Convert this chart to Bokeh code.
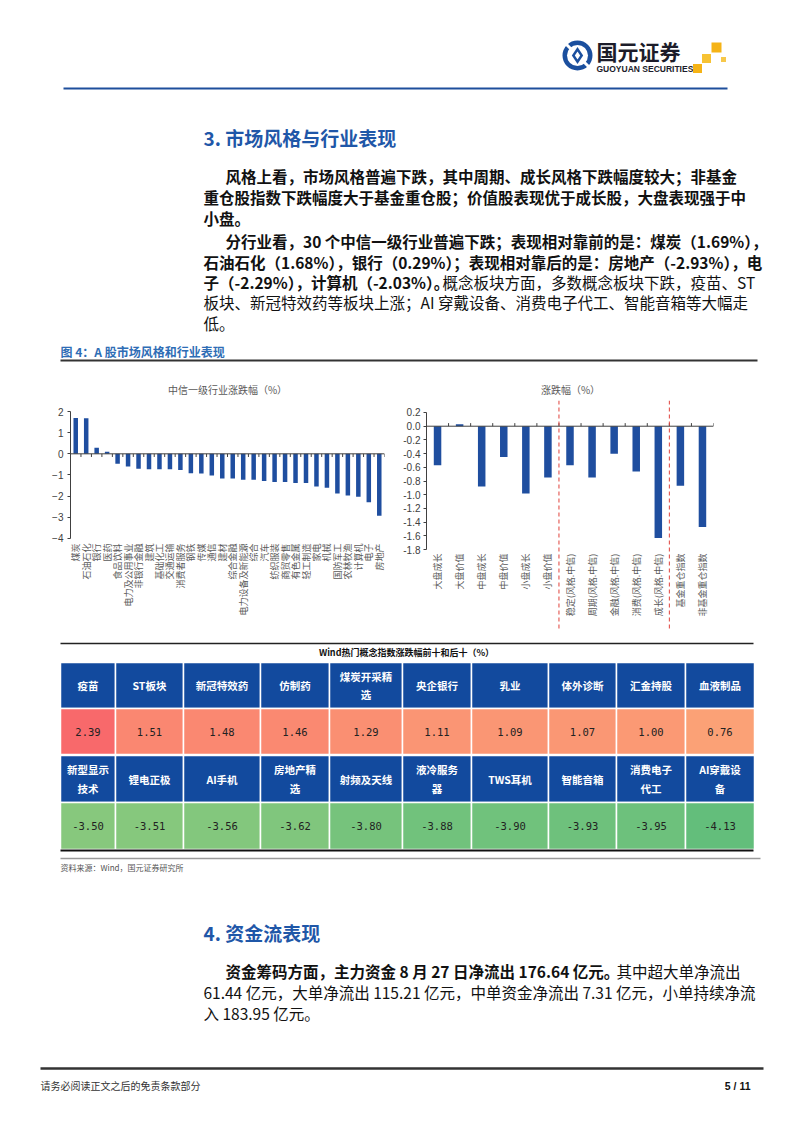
import math
import numpy as np
from bokeh.plotting import figure
from bokeh.layouts import column, row
from bokeh.models import Range1d, FactorRange, Span, FixedTicker, PrintfTickFormatter, ColumnDataSource
from bokeh.transform import dodge
from bokeh.core.properties import value
from bokeh.embed import file_html
from bokeh.resources import INLINE

# ---------------- data ----------------
industries = ["煤炭", "石油石化", "银行", "医药", "食品饮料", "电力及公用事业", "非银行金融", "建筑",
              "基础化工", "交通运输", "消费者服务", "钢铁", "传媒", "通信", "建材", "综合金融",
              "电力设备及新能源", "综合", "汽车", "纺织服装", "商贸零售", "有色金属", "轻工制造",
              "家电", "机械", "国防军工", "农林牧渔", "计算机", "电子", "房地产"]
industry_chg = [1.69, 1.68, 0.29, 0.10, -0.47, -0.60, -0.70, -0.73, -0.73, -0.73, -0.77, -0.92,
                -0.93, -1.03, -1.17, -1.17, -1.22, -1.22, -1.28, -1.33, -1.33, -1.38, -1.38,
                -1.55, -1.60, -1.88, -1.97, -2.03, -2.29, -2.93]
industry_ticks = [2, 1, 0, -1, -2, -3, -4]

style_names = ["大盘成长", "大盘价值", "中盘成长", "中盘价值", "小盘成长", "小盘价值",
               "稳定(风格.中信)", "周期(风格.中信)", "金融(风格.中信)", "消费(风格.中信)",
               "成长(风格.中信)", "基金重仓指数", "非基金重仓指数"]
style_chg = [-0.57, 0.03, -0.88, -0.45, -0.98, -0.75, -0.57, -0.75, -0.40, -0.66, -1.63, -0.87, -1.47]
style_groups = [6, 5, 2]
style_ticks = [0.2, 0.0, -0.2, -0.4, -0.6, -0.8, -1.0, -1.2, -1.4, -1.6, -1.8]

top_concepts = ["疫苗", "ST板块", "新冠特效药", "仿制药", "煤炭开采精\n选", "央企银行", "乳业",
                "体外诊断", "汇金持股", "血液制品"]
top_chg = [2.39, 1.51, 1.48, 1.46, 1.29, 1.11, 1.09, 1.07, 1.00, 0.76]
bottom_concepts = ["新型显示\n技术", "锂电正极", "AI手机", "房地产精\n选", "射频及天线", "液冷服务\n器",
                   "TWS耳机", "智能音箱", "消费电子\n代工", "AI穿戴设\n备"]
bottom_chg = [-3.50, -3.51, -3.56, -3.62, -3.80, -3.88, -3.90, -3.93, -3.95, -4.13]

# ---------------- styles ----------------
CJK = "Noto Sans CJK SC"
LAT = "Liberation Sans"
BAR = "#1f4e9f"
HEAD_BLUE = "#124a9e"
TITLE_BLUE = "#1f57a8"
W = 802


def page_fig(h, y_top, y_bot):
    p = figure(width=W, height=h, x_range=Range1d(0, W), y_range=Range1d(y_bot, y_top),
               output_backend="svg", toolbar_location=None, x_axis_location=None,
               y_axis_location=None, outline_line_color=None)
    p.min_border_left = p.min_border_right = p.min_border_top = p.min_border_bottom = 0
    p.xgrid.visible = False
    p.ygrid.visible = False
    p.background_fill_color = "white"
    p.border_fill_color = "white"
    return p


def txt(p, x, y, s, size, color="#111111", bold=False, align="left", font=CJK):
    p.text(x=[x], y=[y], text=[s], text_font=value(font), text_font_size=f"{size}px",
           text_color=color, text_font_style="bold" if bold else "normal",
           text_align=align, text_baseline="middle")


def hline(p, x0, x1, y, color, w):
    p.segment(x0=[x0], x1=[x1], y0=[y], y1=[y], line_color=color, line_width=w)


def style_yaxis(p):
    ax = p.yaxis
    ax.major_label_text_font = LAT
    ax.major_label_text_font_size = "10px"
    ax.major_label_text_color = "#404040"
    ax.axis_line_color = "#404040"
    ax.major_tick_line_color = "#404040"
    ax.major_tick_out = 3
    ax.major_tick_in = 0
    ax.minor_tick_line_color = None
    ax.major_label_standoff = 3


# ---------------- top part ----------------
top = page_fig(400, 0, 400)
# logo
top.circle(x=[577], y=[55], radius=15, fill_color="#1b4f9e", line_color=None)
top.circle(x=[577], y=[55], radius=10.5, fill_color="white", line_color=None)
top.scatter(x=[577], y=[55], marker="diamond", size=17, fill_color="#1b4f9e", line_color=None)
top.scatter(x=[577], y=[55], marker="diamond", size=8, fill_color="white", line_color=None)
top.segment(x0=[565, 589], x1=[571, 583], y0=[43, 67], y1=[49, 61], line_color="white", line_width=3)
txt(top, 596, 50, "国元证券", 21, color="#1c1c2a", bold=True)
txt(top, 596, 68, "GUOYUAN SECURITIES", 8.5, color="#1c1c2a", bold=True, font=LAT)
top.rect(x=[716, 706, 697, 723], y=[47, 58, 68, 59], width=[10, 9, 9, 5], height=[10, 9, 9, 5],
         fill_color=["#f5b316", "#f7c233", "#f5b316", "#f7c84a"], line_color=None)
hline(top, 63, 727, 88, "#1e4f9c", 2)

txt(top, 203, 137, "3. 市场风格与行业表现", 19, color=TITLE_BLUE, bold=True)
fs = 15.5
txt(top, 225, 175, "风格上看，市场风格普遍下跌，其中周期、成长风格下跌幅度较大；非基金", fs, bold=True)
txt(top, 203, 196, "重仓股指数下跌幅度大于基金重仓股；价值股表现优于成长股，大盘表现强于中", fs, bold=True)
txt(top, 203, 217, "小盘。", fs, bold=True)
txt(top, 225, 240, "分行业看，30 个中信一级行业普遍下跌；表现相对靠前的是：煤炭（1.69%），", fs, bold=True)
txt(top, 203, 261, "石油石化（1.68%），银行（0.29%）；表现相对靠后的是：房地产（-2.93%），电", fs, bold=True)
txt(top, 203, 281, "子（-2.29%），计算机（-2.03%）。", 15.5, bold=True)
txt(top, 442, 281, "概念板块方面，多数概念板块下跌，疫苗、ST", 15.5)
txt(top, 203, 301, "板块、新冠特效药等板块上涨；AI 穿戴设备、消费电子代工、智能音箱等大幅走", fs)
txt(top, 203, 322, "低。", fs)

txt(top, 60, 351, "图 4：A 股市场风格和行业表现", 12, color="#2e6db5", bold=True)
hline(top, 60, 757, 360, "#333333", 2)
txt(top, 227, 389, "中信一级行业涨跌幅（%）", 10, color="#595959", align="center")
txt(top, 570, 389, "涨跌幅（%）", 10, color="#595959", align="center")

# ---------------- left chart ----------------
pl = figure(width=392, height=240, x_range=FactorRange(*industries),
            y_range=Range1d(-8.35, 2.52), x_axis_location=None,
            output_backend="svg", toolbar_location=None, outline_line_color=None,
            min_border_left=70, min_border_right=8, min_border_top=0, min_border_bottom=10)
pl.grid.visible = False
pl.vbar(x=industries, top=industry_chg, width=0.43, fill_color=BAR, line_color=None)
pl.add_layout(Span(location=0, dimension="width", line_color="#404040", line_width=1))
src_l = ColumnDataSource(dict(cat=industries))
pl.segment(x0=dodge("cat", 0.5, range=pl.x_range), x1=dodge("cat", 0.5, range=pl.x_range),
           y0=0, y1=-0.15, source=src_l, line_color="#404040", line_width=1)
pl.text(x=industries, y=[industry_ticks[-1]] * len(industries), text=industries, angle=math.pi / 2,
        text_align="right", text_baseline="middle", y_offset=5,
        text_font=value(CJK), text_font_size="9px", text_color="#595959")
pl.yaxis.ticker = FixedTicker(ticks=industry_ticks)
pl.yaxis.bounds = (industry_ticks[-1], industry_ticks[0])
style_yaxis(pl)
pl.yaxis.major_label_standoff = 4

# ---------------- right chart ----------------
n = len(style_names)
xs = [i + 0.5 for i in range(n)]
pr = figure(width=410, height=240, x_range=Range1d(0, n), y_range=Range1d(-2.98, 0.375),
            output_backend="svg", toolbar_location=None, outline_line_color=None,
            x_axis_location=None,
            min_border_left=34, min_border_right=89, min_border_top=0, min_border_bottom=10)
pr.grid.visible = False
pr.vbar(x=xs, top=style_chg, width=0.34, fill_color=BAR, line_color=None)
pr.add_layout(Span(location=0, dimension="width", line_color="#404040", line_width=1))
pr.segment(x0=list(range(1, n + 1)), x1=list(range(1, n + 1)), y0=0, y1=0.045,
           line_color="#404040", line_width=1)
for b in np.cumsum(style_groups)[:-1]:
    pr.add_layout(Span(location=float(b), dimension="height", line_color="#e0403a",
                       line_dash="4 3", line_width=1))
pr.text(x=xs, y=[style_ticks[-1]] * n, text=style_names, angle=math.pi / 2,
        text_align="right", text_baseline="middle", y_offset=4,
        text_font=value(CJK), text_font_size="9px", text_color="#595959")
pr.yaxis.ticker = FixedTicker(ticks=style_ticks)
pr.yaxis.formatter = PrintfTickFormatter(format="%.1f")
pr.yaxis.bounds = (style_ticks[-1], style_ticks[0])
style_yaxis(pr)

# ---------------- bottom part ----------------
bot = page_fig(493, 640, 1133)

allv = top_chg + bottom_chg
lo, hi, mid = min(allv), max(allv), float(np.percentile(allv, 50))


def scale_color(v):
    red, yel, grn = (248, 105, 107), (255, 235, 132), (99, 190, 123)
    if v >= mid:
        t, a, b = (v - mid) / (hi - mid), yel, red
    else:
        t, a, b = (mid - v) / (mid - lo), yel, grn
    c = [round(a[i] + (b[i] - a[i]) * t) for i in range(3)]
    return "#%02x%02x%02x" % tuple(c)


col_w = [55, 68, 77, 69, 73, 69, 77, 68, 69, 69]
edges = [60]
for w_ in col_w:
    edges.append(edges[-1] + w_)
lefts, rights = edges[:-1], edges[1:]
centers = [(a + b) / 2 for a, b in zip(lefts, rights)]

hline(bot, 60, 753, 643, "#222222", 1.5)
txt(bot, 406, 652, "Wind热门概念指数涨跌幅前十和后十（%）", 9, color="#111111", bold=True, align="center")

rows_y = [(662, 708), (708, 754), (755, 802), (802, 849)]
for (y0, y1), labels, vals in [(rows_y[0], top_concepts, None), (rows_y[1], None, top_chg),
                               (rows_y[2], bottom_concepts, None), (rows_y[3], None, bottom_chg)]:
    if labels is not None:
        bot.quad(left=lefts, right=rights, top=[y0] * 10, bottom=[y1] * 10,
                 fill_color=HEAD_BLUE, line_color="white", line_width=1.5)
        bot.text(x=centers, y=[(y0 + y1) / 2] * 10, text=labels, text_font=value(CJK),
                 text_font_size="10.5px", text_font_style="bold", text_color="white",
                 text_align="center", text_baseline="middle", text_line_height=1.25)
    else:
        bot.quad(left=lefts, right=rights, top=[y0] * 10, bottom=[y1] * 10,
                 fill_color=[scale_color(v) for v in vals], line_color="white", line_width=1.5)
        bot.text(x=centers, y=[(y0 + y1) / 2] * 10, text=[f"{v:.2f}" for v in vals],
                 text_font=value("DejaVu Sans Mono"), text_font_size="10.5px",
                 text_color="#222222", text_align="center", text_baseline="middle")
hline(bot, 60, 753, 850, "#111111", 2)
hline(bot, 60, 760, 858, "#9a9a9a", 1.5)
txt(bot, 60, 867, "资料来源：Wind，国元证券研究所", 8, color="#555555")

txt(bot, 203, 932, "4. 资金流表现", 19, color=TITLE_BLUE, bold=True)
txt(bot, 225, 970, "资金筹码方面，主力资金 8 月 27 日净流出 176.64 亿元。", fs, bold=True)
txt(bot, 616, 970, "其中超大单净流出", fs)
txt(bot, 203, 991, "61.44 亿元，大单净流出 115.21 亿元，中单资金净流出 7.31 亿元，小单持续净流", fs)
txt(bot, 203, 1012, "入 183.95 亿元。", fs)

hline(bot, 40, 763, 1068, "#333333", 2.5)
txt(bot, 40, 1085, "请务必阅读正文之后的免责条款部分", 10, color="#333333")
txt(bot, 750, 1085, "5 / 11", 10.5, color="#111111", bold=True, align="right", font=LAT)

layout = column(top, row(pl, pr), bot)
open("out.html", "w").write(file_html(layout, INLINE))
